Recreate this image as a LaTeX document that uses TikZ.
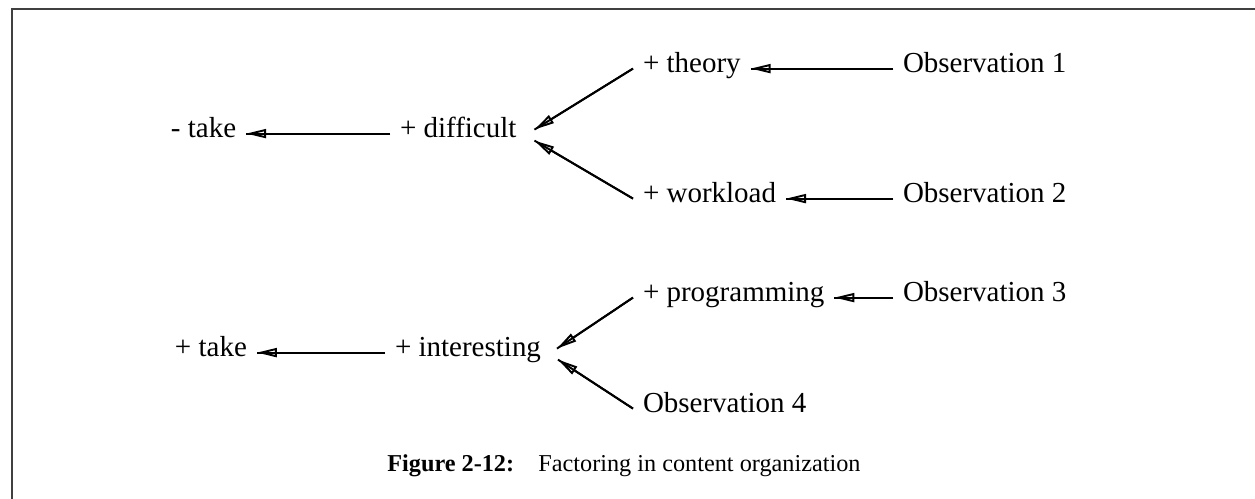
\documentclass[tikz,border=0pt]{standalone}
\usepackage{fontspec}
\setmainfont{Liberation Serif}
\usepackage{tikz}
\usetikzlibrary{arrows.meta}

\begin{document}
\begin{tikzpicture}[
    x=0.02cm, y=-0.02cm,
    term/.style={anchor=base west, inner sep=0pt, outer xsep=0.2cm, outer ysep=0pt,
                 text height=0.7em, text depth=0.2em, font=\fontsize{16.5}{19.8}\selectfont},
    arrow/.style={-{Triangle[open, length=0.4cm, width=0.18cm]}, line width=1.1pt,
                  postaction={draw, -}},
    frame/.style={draw=black!75, line width=1.2pt}
]
\useasboundingbox (0,0) rectangle (1255,499);

% Frame
\draw[frame] (12,499) -- (12,9) -- (1255,9);

% Upper tree
\node[term] (take1) at (161,138) {- take};
\node[term] (difficult) at (390,138) {+ difficult};
\node[term] (theory) at (633,73) {+ theory};
\node[term] (workload) at (633,203) {+ workload};
\node[term] (obs1) at (893,73) {Observation 1};
\node[term] (obs2) at (893,203) {Observation 2};

% Lower tree
\node[term] (take2) at (165,357) {+ take};
\node[term] (interesting) at (385,357) {+ interesting};
\node[term] (programming) at (633,302) {+ programming};
\node[term] (obs4) at (633,413) {Observation 4};
\node[term] (obs3) at (893,302) {Observation 3};

% Arrows
\draw[arrow] (difficult) -- (take1);
\draw[arrow] (theory.west) -- ([shift={(8,-4)}]difficult.east);
\draw[arrow] (workload.west) -- ([shift={(8,7)}]difficult.east);
\draw[arrow] (obs1) -- (theory);
\draw[arrow] (obs2) -- (workload);
\draw[arrow] (interesting) -- (take2);
\draw[arrow] (programming.west) -- ([shift={(6,-4)}]interesting.east);
\draw[arrow] (obs4.west) -- ([shift={(7,7)}]interesting.east);
\draw[arrow] (obs3) -- (programming);

% Caption
\node[anchor=base west, inner sep=0pt, font=\fontsize{13.8}{16.5}\selectfont] (caption) at (387,472)
    {\textbf{Figure 2-12:}\quad Factoring in content organization};

\end{tikzpicture}
\end{document}
